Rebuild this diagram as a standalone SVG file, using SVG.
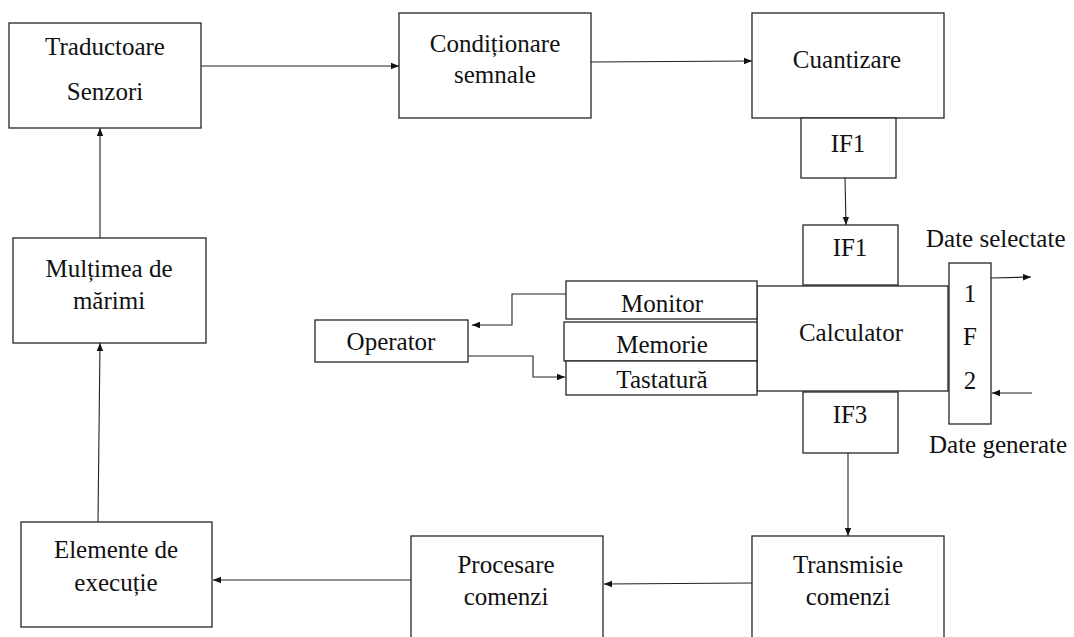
<svg xmlns="http://www.w3.org/2000/svg" width="1074" height="637" viewBox="0 0 1074 637" font-family="Liberation Serif, Times New Roman, serif">
<defs>
<style>
.box{fill:#fff;stroke:#262626;stroke-width:1.3}
.t{font-size:25px;fill:#111;text-anchor:middle}
.tl{font-size:25px;fill:#111}
.c{fill:none;stroke:#222;stroke-width:1.1}
</style>
<marker id="ah" viewBox="0 0 10 10" refX="10" refY="5" markerWidth="8" markerHeight="8" markerUnits="userSpaceOnUse" orient="auto">
<path d="M0,1 L10,5 L0,9 Z" fill="#111"/>
</marker>
</defs>
<rect width="1074" height="637" fill="#fff"/>
<g id="connectors">
<line class="c" x1="201" y1="66" x2="399" y2="66" marker-end="url(#ah)"/>
<line class="c" x1="591" y1="62" x2="752" y2="61" marker-end="url(#ah)"/>
<line class="c" x1="845" y1="178" x2="846" y2="225" marker-end="url(#ah)"/>
<line class="c" x1="991" y1="278" x2="1031" y2="277" marker-end="url(#ah)"/>
<line class="c" x1="1032" y1="393" x2="992" y2="393" marker-end="url(#ah)"/>
<polyline class="c" points="566,294 512,294 512,325 472,325" marker-end="url(#ah)"/>
<polyline class="c" points="468,356 533,356 533,377 565,377" marker-end="url(#ah)"/>
<line class="c" x1="848" y1="453" x2="848" y2="536" marker-end="url(#ah)"/>
<line class="c" x1="752" y1="583" x2="604" y2="584" marker-end="url(#ah)"/>
<line class="c" x1="411" y1="580" x2="213" y2="580" marker-end="url(#ah)"/>
<line class="c" x1="98" y1="522" x2="100" y2="343" marker-end="url(#ah)"/>
<line class="c" x1="100" y1="238" x2="100" y2="128" marker-end="url(#ah)"/>
</g>
<g id="traductoare"><rect class="box" x="9" y="23" width="192" height="105"/><text class="t" x="105" y="55">Traductoare</text><text class="t" x="105" y="100">Senzori</text></g>
<g id="conditionare"><rect class="box" x="399" y="13" width="192" height="105"/><text class="t" x="495" y="52">Condiționare</text><text class="t" x="495" y="83">semnale</text></g>
<g id="cuantizare"><rect class="box" x="752" y="13" width="192" height="105"/><text class="t" x="847" y="68">Cuantizare</text></g>
<g id="if1a"><rect class="box" x="801" y="118" width="95" height="60"/><text class="t" x="848" y="152">IF1</text></g>
<g id="if1b"><rect class="box" x="803" y="225" width="95" height="60"/><text class="t" x="850" y="256">IF1</text></g>
<g id="calculator"><rect class="box" x="757" y="286" width="191" height="105"/><text class="t" x="851" y="341">Calculator</text></g>
<g id="monitor"><rect class="box" x="566" y="281" width="191" height="38"/><text class="t" x="662" y="312">Monitor</text></g>
<g id="memorie"><rect class="box" x="564" y="322" width="193" height="39"/><text class="t" x="662" y="353">Memorie</text></g>
<g id="tastatura"><rect class="box" x="566" y="361" width="191" height="34"/><text class="t" x="662" y="388">Tastatură</text></g>
<g id="operator"><rect class="box" x="315" y="320" width="153" height="42"/><text class="t" x="391" y="350">Operator</text></g>
<g id="if2"><rect class="box" x="949" y="263" width="42" height="161"/><text class="t" x="970" y="302">1</text><text class="t" x="970" y="345">F</text><text class="t" x="970" y="389">2</text></g>
<g id="if3"><rect class="box" x="803" y="392" width="95" height="61"/><text class="t" x="850" y="423">IF3</text></g>
<g id="date-selectate"><text class="tl" x="926" y="247">Date selectate</text></g>
<g id="date-generate"><text class="tl" x="929" y="453">Date generate</text></g>
<g id="transmisie"><rect class="box" x="752" y="536" width="192" height="110"/><text class="t" x="848" y="573">Transmisie</text><text class="t" x="848" y="605">comenzi</text></g>
<g id="procesare"><rect class="box" x="411" y="536" width="192" height="110"/><text class="t" x="506" y="573">Procesare</text><text class="t" x="506" y="605">comenzi</text></g>
<g id="elemente"><rect class="box" x="21" y="522" width="191" height="105"/><text class="t" x="116" y="558">Elemente de</text><text class="t" x="116" y="591">execuție</text></g>
<g id="multimea"><rect class="box" x="13" y="238" width="193" height="105"/><text class="t" x="109" y="277">Mulțimea de</text><text class="t" x="109" y="309">mărimi</text></g>
</svg>
